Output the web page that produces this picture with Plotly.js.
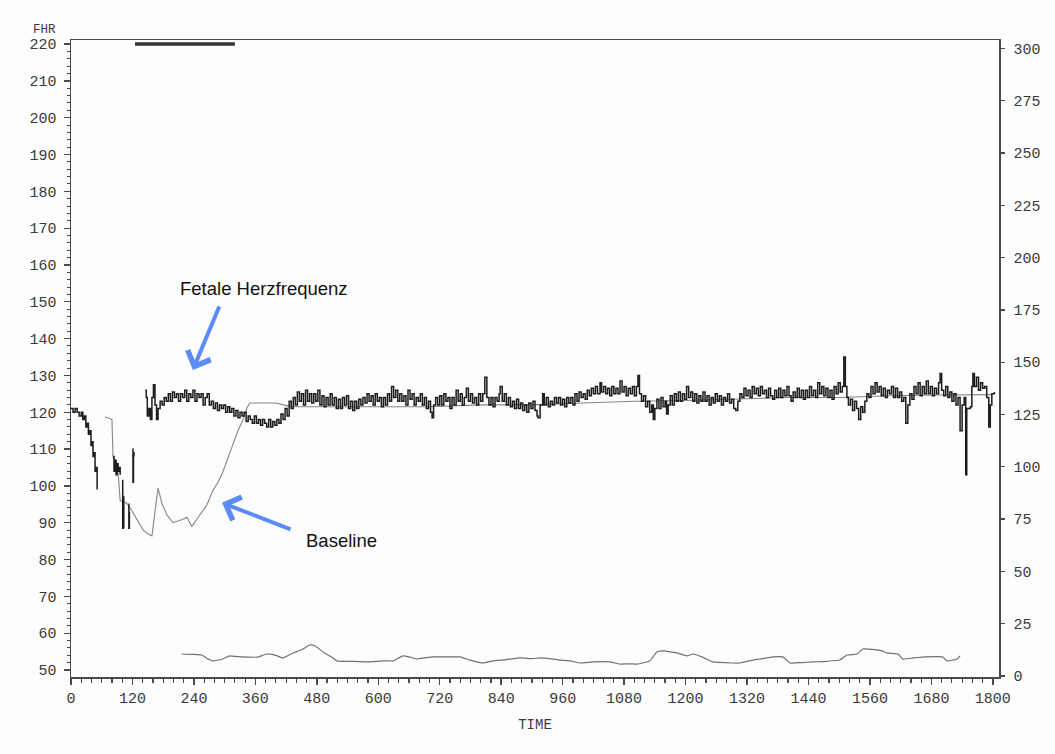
<!DOCTYPE html>
<html>
<head>
<meta charset="utf-8">
<script src="https://cdn.plot.ly/plotly-3.0.1.min.js"></script>
<style>
  html, body { margin: 0; padding: 0; background: #fdfdfd; }
  #chart { width: 1055px; height: 754px; }
</style>
</head>
<body>
<div id="chart"></div>
<script>
// ---- Fetal heart rate (left axis, bpm); null = signal gap ----
const fhrTime = [
  0,4,8,12,16,20,23,26,29,31,34,37,39,41,43,45,47,49,51,53,
  82,84,86,88,90,92,94,96,97,
  100,101,102,103,104,
  112,113,114,115,
  120,121,122,123,124,
  145,147,149,152,155,158,161,164,167,170,174,178,182,186,190,194,198,202,206,210,
  214,218,222,226,230,234,238,242,246,250,254,258,262,266,270,274,278,282,286,290,
  294,298,302,306,310,314,318,322,326,330,334,338,342,346,350,354,358,362,366,370,
  374,378,382,386,390,394,398,402,406,410,414,418,422,426,430,434,438,442,446,450,
  454,458,462,466,470,474,478,482,486,490,494,498,502,506,510,514,518,522,526,530,
  534,538,542,546,550,554,558,562,566,570,574,578,582,586,590,594,598,602,606,610,
  614,618,622,626,630,634,638,642,646,650,654,658,662,666,670,674,678,682,686,690,
  694,698,702,705,708,712,716,720,724,728,732,736,740,744,748,752,756,760,764,768,
  772,776,780,784,788,792,796,800,804,808,812,816,820,824,828,832,836,838,842,846,
  850,854,858,862,866,870,874,878,882,886,890,894,898,902,906,910,912,916,921,924,
  928,932,936,940,944,948,952,956,960,964,968,972,976,980,984,988,992,996,1000,1004,
  1008,1012,1016,1020,1024,1028,1033,1036,1040,1044,1048,1052,1056,1060,1064,1068,1072,1076,1080,1084,
  1088,1092,1096,1100,1104,1107,1110,1114,1118,1122,1126,1130,1134,1137,1140,1144,1148,1152,1156,1160,
  1163,1166,1170,1174,1178,1182,1186,1190,1194,1198,1202,1206,1210,1214,1218,1222,1226,1230,1234,1238,
  1242,1246,1250,1254,1258,1262,1266,1270,1274,1278,1282,1286,1290,1294,1298,1302,1306,1310,1314,1318,
  1322,1326,1330,1334,1338,1342,1346,1350,1354,1358,1362,1366,1370,1374,1378,1382,1386,1390,1394,1398,
  1402,1406,1410,1414,1418,1422,1426,1430,1434,1438,1442,1446,1450,1454,1458,1462,1466,1470,1474,1478,
  1482,1486,1490,1494,1498,1502,1506,1509,1512,1515,1518,1522,1526,1530,1534,1538,1542,1546,1550,1554,
  1558,1562,1566,1570,1574,1578,1582,1586,1590,1594,1598,1602,1606,1610,1614,1618,1622,1626,1630,1634,
  1638,1642,1646,1650,1654,1658,1662,1666,1670,1674,1678,1682,1686,1690,1694,1697,1700,1704,1708,1712,
  1716,1720,1724,1728,1732,1736,1740,1744,1747,1749,1752,1756,1759,1761,1764,1768,1772,1776,1780,1784,
  1788,1792,1795,1798,1803
];
const fhrValue = [
  121,120,121,120,119,120,118,119,116,117,114,115,111,112,108,109,104,105,99,null,
  108,104,107,103,106,104,105,103,null,
  101.5,88.5,97,88.5,null,
  95,88.5,93,null,
  110,101,109,108,null,
  126,124,119,121,118,124,127.5,122,118,121,123,122,124,123,125,123,125.5,124,125,123,
  125,124,126,123,125,124,126,123,125,124,125,122,124,125,122,123,121,122.5,120.5,122,
  121,122,120,121.5,120,121,119,120.5,118.5,120,119,120,117.5,119,118,117,119,117,118,116.5,
  118,117,116,118,116,117.5,116.5,118,117,119.5,118,121,119,123,121,124,122,125.5,123,125,
  122,126,123,125,122.5,125,123,126,122,124.5,121.5,124,122,125,122,124,121,123.5,121,124,
  122,124.5,121,123,120.5,123,121,123.5,122,124,122.5,125,123,124.5,122,125,123,124,121.5,124,
  122,125,123,127,124,126,123,125,123,124.5,122,126,123.5,125,122,124,123,125,122,124,
  121,123,120,118.5,122,124,122,124.5,122,125,123,124,121,124,122,126,123,125,122,124,
  126.5,123,125,122.5,124,122,125,123,125,129.5,124,122,124,121.5,124,123,125,127,123,125,
  122,124,121.5,123,121,123.5,121,122.5,120.5,122,120,122.5,121,123,120.5,119,118.5,122,125,122,
  124,121.5,123,122,124,122.5,124,122,123.5,121.5,124,122.5,124,122,125,123,125.5,124,125,123.5,
  126,124.5,126.5,125,127,125,128,125.5,127,125,126.5,124.5,127,125,126.5,125,128.5,125.5,127,124.5,
  126.5,125,127,124.5,127,130,125,123,124.5,121.5,123,120,122,118,121,123.5,121,124,121.5,123,
  119.5,122,124.5,122,125,123,125.5,123,125,123.5,127,124,125.5,123,125,122.5,124.5,123,125.5,123,
  124.5,122,124,122.5,125,123,124.5,122,124,123,125,122.5,123.5,121,120.5,123,125,124,126.5,124.5,
  126,124,127,125,126.5,124.5,127,125,126,124,126.5,124.5,123.5,126,124,126.5,124,126,124.5,127,
  124.5,123,125.5,124,126.5,124,126,123.5,126,124,127,124.5,126,124,128,125,127,124.5,126.5,124,
  126,123.5,127,125,128,125.5,127,135,127,124,122,123.5,120.5,123,121,118,121.5,120,123,125,
  124,127,125,128,125.5,127,124.5,126.5,124,126,125,127,124,126.5,124,125.5,123,124,117,122,
  125,123.5,127,125,128,124.5,127,125,128.5,125,127,124.5,126.5,125,128,130.5,126,124.5,127,124,
  125.5,123,125,122,124,115,122,124,103,121,121,121.5,127,130.5,127,129.5,126,128,126.5,127,
  124,116,122,125,125.5
];

// ---- Baseline (left axis) ----
const baseTime = [66,72,80,82,86,92,96,109,120,130,141,150,158,164,170,178,188,199,210,220,226,236,246,256,266,276,287,297,306,316,326,336,343,349,360,380,400,415,430,500,600,700,800,900,1000,1100,1200,1300,1400,1500,1600,1700,1800];
const baseValue = [118.7,118.5,118,108,106,103.5,96,95.3,93,90.5,88,87,86.4,93,99.4,95,92,90,90.5,91,91.5,89,91,93,95,98.5,101,104,107.5,111.6,115,118,121,122.5,122.5,122.5,122.5,122,121.5,121.5,121.5,121.5,122,122,122.5,123,123.2,123.5,124,124,124.5,124.7,124.8];

// ---- Lower trace (right axis) ----
const lowTime = [216,240,255,265,277,295,310,325,345,365,382,400,414,424,434,450,467,477,495,512,519,545,578,610,629,648,662,675,690,707,735,759,779,804,824,850,877,900,916,935,955,975,994,1020,1052,1072,1090,1105,1130,1144,1158,1170,1183,1203,1214,1233,1253,1292,1306,1331,1345,1371,1390,1404,1425,1449,1475,1501,1515,1535,1546,1565,1585,1593,1615,1624,1645,1671,1702,1710,1730,1736];
const lowValue = [10.5,10.3,10,8.5,7.2,8,9.6,9.2,9,9,10.5,9.8,8.6,9.8,11,12.5,14.8,14.3,11,8.6,7.2,7,6.7,7.2,7.2,9.6,9,8.1,8.6,9.1,9.1,9.1,7.6,6.2,7.2,7.8,8.6,8.3,8.6,8.3,7.6,7.2,6.2,6.7,6.7,5.7,5.8,5.7,7.2,11.5,12,11.5,11,9.6,10.5,9,6.7,6.2,6.2,7.6,8.1,9.1,9.1,6.2,6.4,6.7,7,7.6,10,10.5,12.9,12.7,11.9,11,10.5,8.1,8.6,9.1,9.1,7.2,8.1,9.6];

// ---- Marker bar at top ----
const topBarTime = [125, 320];
const topBarValue = [220, 220];

// ---- Ticks ----
const timeTicks = [0,120,240,360,480,600,720,840,960,1080,1200,1320,1440,1560,1680,1800];
const fhrTicks = [50,60,70,80,90,100,110,120,130,140,150,160,170,180,190,200,210,220];
const rightTicks = [0,25,50,75,100,125,150,175,200,225,250,275,300];

const mono = "Liberation Mono, DejaVu Sans Mono, monospace";
const axisCol = "#4a4a4a";
const tickFont = {family: mono, size: 15, color: "#3a3a3a"};
const arrowBlue = "#5b8bf7";
const labelFont = {family: "Liberation Sans, Arial, sans-serif", size: 18.5, color: "#111"};

const traces = [
  {x: baseTime, y: baseValue, type: "scatter", mode: "lines",
   line: {color: "#858585", width: 1.1}, hoverinfo: "skip"},
  {x: fhrTime, y: fhrValue, type: "scatter", mode: "lines", connectgaps: false,
   line: {color: "#1c1c1c", width: 1.5, shape: "hv"}, hoverinfo: "skip"},
  {x: lowTime, y: lowValue, type: "scatter", mode: "lines", yaxis: "y2",
   line: {color: "#707070", width: 1.2, shape: "spline", smoothing: 0.4}, hoverinfo: "skip"},
  {x: topBarTime, y: topBarValue, type: "scatter", mode: "lines",
   line: {color: "#333", width: 3.5}, hoverinfo: "skip"}
];

const layout = {
  width: 1055, height: 754,
  paper_bgcolor: "#fdfdfd", plot_bgcolor: "#fdfdfd",
  margin: {l: 71, r: 56, t: 40, b: 77},
  showlegend: false,
  xaxis: {
    range: [0, 1812], tickvals: timeTicks, ticktext: timeTicks.map(String),
    showgrid: false, zeroline: false,
    showline: true, linecolor: axisCol, linewidth: 1.5, mirror: true,
    ticks: "outside", ticklen: 6, tickwidth: 1.5, tickcolor: axisCol,
    minor: {dtick: 20, tick0: 0, ticks: "outside", ticklen: 4, tickwidth: 1.2, tickcolor: axisCol, showgrid: false},
    tickfont: tickFont,
    title: {text: "TIME", font: {family: mono, size: 14, color: "#3a3a3a"}, standoff: 12}
  },
  yaxis: {
    range: [48.1, 221.1], tickvals: fhrTicks, ticktext: fhrTicks.map(String),
    showgrid: false, zeroline: false,
    showline: true, linecolor: axisCol, linewidth: 1.5,
    ticks: "outside", ticklen: 6, tickwidth: 1.3, tickcolor: axisCol,
    minor: {dtick: 2, tick0: 50, ticks: "outside", ticklen: 3, tickwidth: 1, tickcolor: axisCol, showgrid: false},
    tickfont: tickFont, ticklabelstandoff: 4
  },
  yaxis2: {
    overlaying: "y", side: "right",
    range: [-0.5, 304], tickvals: rightTicks, ticktext: rightTicks.map(String),
    showgrid: false, zeroline: false,
    showline: true, linecolor: axisCol, linewidth: 1.5,
    ticks: "outside", ticklen: 4, tickwidth: 1.3, tickcolor: axisCol,
    tickfont: tickFont, ticklabelstandoff: 6
  },
  annotations: [
    {xref: "paper", yref: "paper", x: -0.029, y: 1.016, text: "FHR", showarrow: false,
     font: {family: mono, size: 12.5, color: "#3a3a3a"}, xanchor: "center", yanchor: "middle"},
    {xref: "x", yref: "y", x: 377, y: 153.7, text: "Fetale Herzfrequenz", showarrow: false,
     font: labelFont, xanchor: "center", yanchor: "middle"},
    {xref: "x", yref: "y", x: 238, y: 131.5, text: "", showarrow: true,
     ax: 27, ay: -65, arrowhead: 4, arrowsize: 1.2, arrowwidth: 4, arrowcolor: arrowBlue},
    {xref: "x", yref: "y", x: 529, y: 85.3, text: "Baseline", showarrow: false,
     font: labelFont, xanchor: "center", yanchor: "middle"},
    {xref: "x", yref: "y", x: 295, y: 95.4, text: "", showarrow: true,
     ax: 70, ay: 27, arrowhead: 4, arrowsize: 1.2, arrowwidth: 4, arrowcolor: arrowBlue}
  ]
};

Plotly.newPlot("chart", traces, layout, {displayModeBar: false, staticPlot: true});
</script>
</body>
</html>
